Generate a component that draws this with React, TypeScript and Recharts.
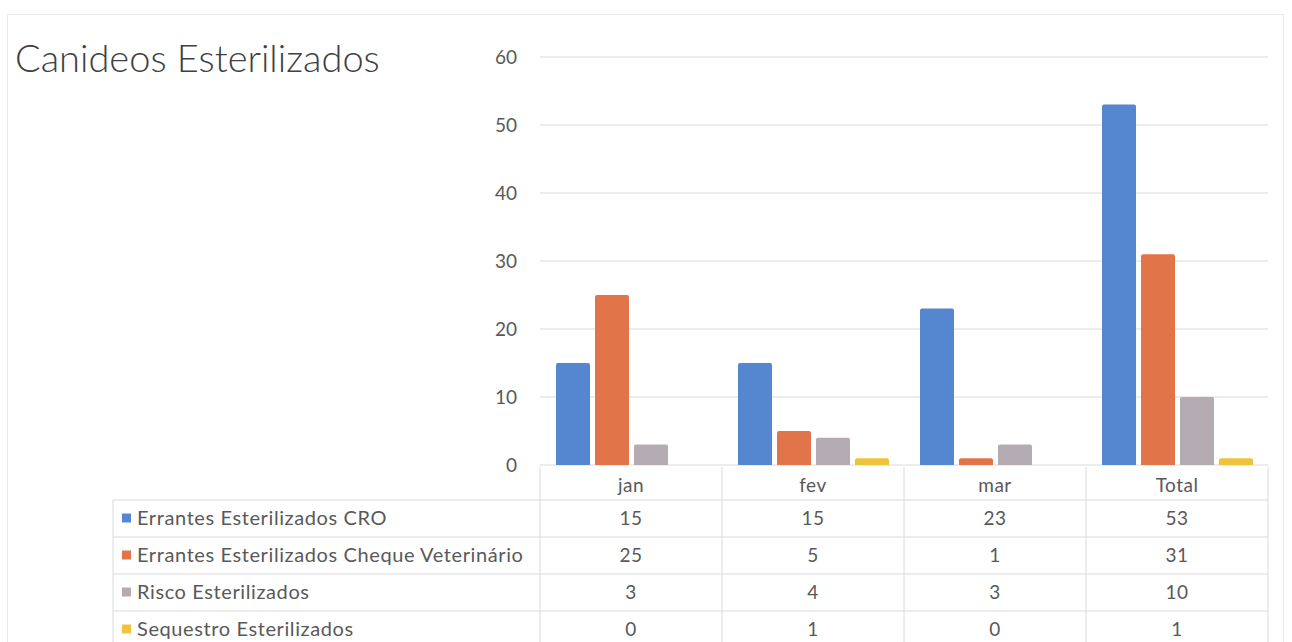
import React from 'react';
import { BarChart, Bar, XAxis, YAxis, CartesianGrid } from 'recharts';

const categories = ['jan', 'fev', 'mar', 'Total'];
const croValues = [15, 15, 23, 53];
const chequeValues = [25, 5, 1, 31];
const riscoValues = [3, 4, 3, 10];
const sequestroValues = [0, 1, 0, 1];
const yTicks = [0, 10, 20, 30, 40, 50, 60];
const seriesKeys = ['cro', 'cheque', 'risco', 'sequestro'];
const seriesNames = [
  'Errantes Esterilizados CRO',
  'Errantes Esterilizados Cheque Veterinário',
  'Risco Esterilizados',
  'Sequestro Esterilizados',
];
const seriesColors = ['#5487CF', '#E2744A', '#B5ABB2', '#EFC43C'];
const seriesValues = [croValues, chequeValues, riscoValues, sequestroValues];

const data = categories.map((c, i) => ({
  name: c,
  cro: croValues[i],
  cheque: chequeValues[i],
  risco: riscoValues[i],
  sequestro: sequestroValues[i],
}));

const W = 1292;
const H = 642;
const PLOT_LEFT = 540;
const PLOT_RIGHT = 1268;
const PLOT_TOP = 57;
const PLOT_BOTTOM = 465;
const Y_AXIS_W = 40;
const X_AXIS_H = 30;
const BAND = (PLOT_RIGHT - PLOT_LEFT) / categories.length;
const TABLE_LEFT = 113;
const ROW_LINES = [500, 537, 574, 611];
const ROW_H = 37;
const FONT = 'Lato, "Open Sans", sans-serif';
const TEXT = '#595959';
const GRID = '#DADADA';

export default function App() {
  return (
    <div style={{ position: 'fixed', left: 0, top: 0, width: W, height: H, background: '#fff', fontFamily: FONT }}>
      <BarChart
        width={W}
        height={H}
        data={data}
        margin={{ top: PLOT_TOP, right: W - PLOT_RIGHT, bottom: H - PLOT_BOTTOM - X_AXIS_H, left: PLOT_LEFT - Y_AXIS_W }}
        barSize={34}
        barGap={5}
      >
        <CartesianGrid vertical={false} stroke={GRID} />
        <XAxis
          dataKey="name"
          height={X_AXIS_H}
          axisLine={false}
          tickLine={false}
          tickMargin={8}
          tick={{ fill: TEXT, fontSize: 19, fontFamily: FONT, letterSpacing: 0.5 }}
        />
        <YAxis
          width={Y_AXIS_W}
          domain={[0, 60]}
          ticks={yTicks}
          axisLine={false}
          tickLine={false}
          tickMargin={17}
          tick={{ fill: TEXT, fontSize: 19, fontFamily: FONT }}
        />
        {seriesKeys.map((k, i) => (
          <Bar key={k} dataKey={k} name={seriesNames[i]} fill={seriesColors[i]} radius={[2, 2, 0, 0]} isAnimationActive={false} />
        ))}
      </BarChart>
      <svg width={W} height={H} style={{ position: 'absolute', left: 0, top: 0, pointerEvents: 'none' }}>
        <rect x={7.5} y={14.5} width={1276} height={640} fill="none" stroke="#EAEAEA" />
        <text x={15} y={72} fontSize={38} fill="#404040" fontFamily={FONT} fontWeight={300}>
          Canideos Esterilizados
        </text>
        {categories.concat(['']).map((_, i) => (
          <line key={'v' + i} x1={PLOT_LEFT + i * BAND} x2={PLOT_LEFT + i * BAND} y1={PLOT_BOTTOM + 2} y2={H} stroke={GRID} />
        ))}
        <line x1={TABLE_LEFT} x2={TABLE_LEFT} y1={ROW_LINES[0]} y2={H} stroke={GRID} />
        {ROW_LINES.map((y) => (
          <line key={'h' + y} x1={TABLE_LEFT} x2={PLOT_RIGHT} y1={y} y2={y} stroke={GRID} />
        ))}
        {seriesNames.map((name, r) => {
          const cy = ROW_LINES[r] + ROW_H / 2;
          return (
            <g key={name}>
              <rect x={122} y={cy - 5} width={9} height={9} fill={seriesColors[r]} />
              <text x={137} y={cy + 6} fontSize={20} letterSpacing={0.6} fill={TEXT} fontFamily={FONT}>
                {name}
              </text>
              {seriesValues[r].map((v, c) => (
                <text key={c} x={PLOT_LEFT + (c + 0.5) * BAND} y={cy + 6} fontSize={19} letterSpacing={0.5} fill={TEXT} fontFamily={FONT} textAnchor="middle">
                  {v}
                </text>
              ))}
            </g>
          );
        })}
      </svg>
    </div>
  );
}
